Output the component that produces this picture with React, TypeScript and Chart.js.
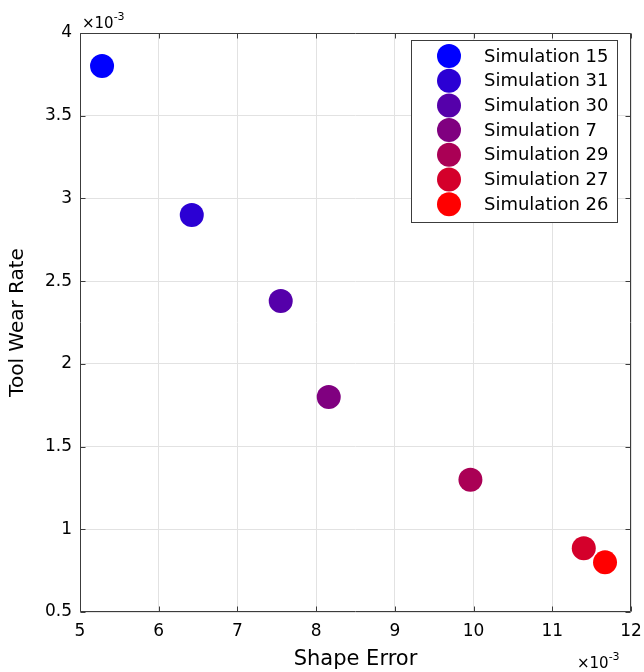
import React, { useEffect, useRef } from 'react';
import { Chart, registerables } from 'chart.js';

Chart.register(...registerables);

const FONT = "'DejaVu Sans', sans-serif";

// values in units of 1e-3 (axis labels show "×10^-3")
const simulationNames = [
  'Simulation 15',
  'Simulation 31',
  'Simulation 30',
  'Simulation 7',
  'Simulation 29',
  'Simulation 27',
  'Simulation 26',
];
const shapeError = [5.28, 6.42, 7.55, 8.16, 9.96, 11.4, 11.67];
const toolWearRate = [3.8, 2.9, 2.38, 1.8, 1.3, 0.885, 0.8];
const pointColors = ['#0000ff', '#2b00d4', '#5500aa', '#800080', '#aa0055', '#d4002b', '#ff0000'];

const xTickValues = [5, 6, 7, 8, 9, 10, 11, 12];
const yTickValues = [0.5, 1, 1.5, 2, 2.5, 3, 3.5, 4];

const xTitle = 'Shape Error';
const yTitle = 'Tool Wear Rate';
const exponentBase = '×10';
const exponentPower = '-3';

const frameAndExtrasPlugin = {
  id: 'frameAndExtras',
  beforeDatasetsDraw(chart: any) {
    const { ctx, chartArea } = chart;
    const { left, right, top, bottom } = chartArea;
    const xs = chart.scales.x;
    const ys = chart.scales.y;
    ctx.save();
    ctx.strokeStyle = '#3c3c3c';
    ctx.lineWidth = 1;
    const L = Math.round(left) + 0.5;
    const R = Math.round(right) - 0.5;
    const T = Math.round(top) + 0.5;
    const B = Math.round(bottom) - 0.5;
    ctx.beginPath();
    ctx.rect(L, T, R - L, B - T);
    ctx.stroke();
    const tl = 5;
    ctx.beginPath();
    xTickValues.forEach((v) => {
      const px = Math.round(xs.getPixelForValue(v)) + 0.5;
      ctx.moveTo(px, B);
      ctx.lineTo(px, B - tl);
      ctx.moveTo(px, T);
      ctx.lineTo(px, T + tl);
    });
    yTickValues.forEach((v) => {
      const py = Math.round(ys.getPixelForValue(v)) + 0.5;
      ctx.moveTo(L, py);
      ctx.lineTo(L + tl, py);
      ctx.moveTo(R, py);
      ctx.lineTo(R - tl, py);
    });
    ctx.stroke();
    ctx.restore();
  },
  afterDraw(chart: any) {
    const { ctx, chartArea } = chart;
    ctx.save();
    // exponent labels
    const drawExp = (x: number, baseline: number) => {
      ctx.fillStyle = '#000';
      ctx.textAlign = 'left';
      ctx.textBaseline = 'alphabetic';
      ctx.font = `15px ${FONT}`;
      ctx.fillText(exponentBase, x, baseline);
      const w = ctx.measureText(exponentBase).width;
      ctx.font = `11px ${FONT}`;
      ctx.fillText(exponentPower, x + w, baseline - 8);
    };
    drawExp(chartArea.left + 2, chartArea.top - 5);
    drawExp(chartArea.right - 54, chartArea.bottom + 56);

    // legend
    const bx = 411.5;
    const by = 40.5;
    const bw = 206;
    const bh = 182;
    ctx.fillStyle = '#ffffff';
    ctx.fillRect(bx, by, bw, bh);
    ctx.strokeStyle = '#3c3c3c';
    ctx.lineWidth = 1;
    ctx.strokeRect(bx, by, bw, bh);
    ctx.font = `18px ${FONT}`;
    ctx.textAlign = 'left';
    ctx.textBaseline = 'middle';
    chart.data.datasets.forEach((ds: any, i: number) => {
      const cy = 56 + i * 24.7;
      ctx.beginPath();
      ctx.fillStyle = ds.backgroundColor;
      ctx.arc(449, cy, 12, 0, Math.PI * 2);
      ctx.fill();
      ctx.fillStyle = '#000';
      ctx.fillText(ds.label, 484, cy + 1);
    });
    ctx.restore();
  },
};

export default function App() {
  const canvasRef = useRef<HTMLCanvasElement | null>(null);

  useEffect(() => {
    if (!canvasRef.current) return;
    const datasets = simulationNames.map((name, i) => ({
      label: name,
      data: [{ x: shapeError[i], y: toolWearRate[i] }],
      backgroundColor: pointColors[i],
      borderColor: pointColors[i],
      borderWidth: 0,
      pointRadius: 12,
      pointHoverRadius: 12,
    }));
    const chart = new Chart(canvasRef.current, {
      type: 'scatter',
      data: { datasets },
      plugins: [frameAndExtrasPlugin],
      options: {
        animation: false,
        responsive: false,
        maintainAspectRatio: false,
        events: [],
        layout: { padding: { top: 33, right: 13, left: 0, bottom: 0 } },
        plugins: {
          legend: { display: false },
          tooltip: { enabled: false },
        },
        scales: {
          x: {
            type: 'linear',
            min: 5,
            max: 12,
            afterBuildTicks: (scale: any) => {
              scale.ticks = xTickValues.map((v) => ({ value: v }));
            },
            afterFit: (scale: any) => {
              scale.height = 60;
              scale.paddingLeft = 0;
              scale.paddingRight = 0;
            },
            ticks: {
              color: '#000',
              font: { family: FONT, size: 17 },
              padding: 9,
              maxRotation: 0,
              callback: (v: any) => String(v),
            },
            grid: { color: '#e2e2e2', drawTicks: false },
            border: { display: false },
            title: {
              display: true,
              text: xTitle,
              color: '#000',
              font: { family: FONT, size: 21 },
              padding: { top: 0, bottom: 0 },
            },
          },
          y: {
            type: 'linear',
            min: 0.5,
            max: 4,
            afterBuildTicks: (scale: any) => {
              scale.ticks = yTickValues.map((v) => ({ value: v }));
            },
            afterFit: (scale: any) => {
              scale.width = 80;
              scale.paddingTop = 0;
              scale.paddingBottom = 0;
            },
            ticks: {
              color: '#000',
              font: { family: FONT, size: 17 },
              padding: 8,
              callback: (v: any) => String(v),
            },
            grid: { color: '#e2e2e2', drawTicks: false },
            border: { display: false },
            title: {
              display: true,
              text: yTitle,
              color: '#000',
              font: { family: FONT, size: 20 },
              padding: { top: 6, bottom: 0 },
            },
          },
        },
      },
    } as any);
    return () => chart.destroy();
  }, []);

  return (
    <div style={{ position: 'absolute', left: 0, top: 0, width: 644, height: 672, background: '#fff' }}>
      <canvas ref={canvasRef} width={644} height={672} />
    </div>
  );
}
